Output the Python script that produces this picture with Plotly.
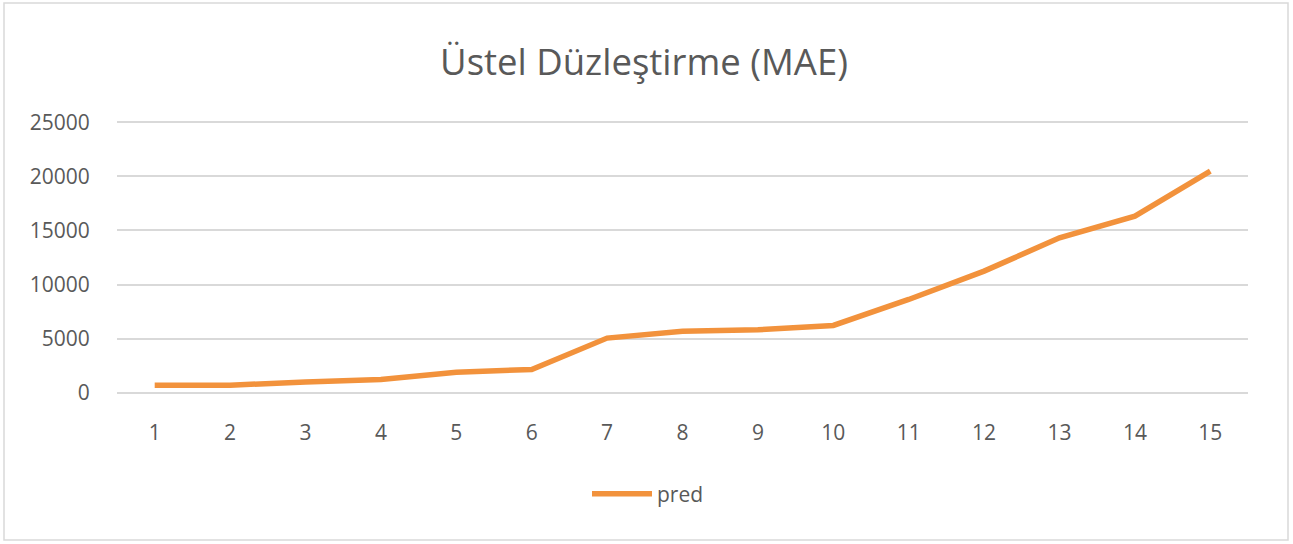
import plotly.graph_objects as go

periods = list(range(1, 16))
pred = [700, 700, 980, 1230, 1900, 2150, 5050, 5690, 5820, 6220, 8620, 11240, 14320, 16320, 20480]
y_ticks = [0, 5000, 10000, 15000, 20000, 25000]
title_text = "Üstel Düzleştirme (MAE)"
series_name = "pred"

FONT = "Open Sans, Lato, sans-serif"
GREY = "#595959"

fig = go.Figure()
fig.add_trace(go.Scatter(
    x=periods, y=pred, mode="lines", name=series_name,
    line=dict(color="#F2923C", width=5.5),
))

W, H = 1293, 544
ml, mr, mt, mb = 117, 45, 121, 150
pw, ph = W - ml - mr, H - mt - mb
bottom_px = H - mb  # pixel row of paper y=0

fig.update_layout(
    width=W, height=H,
    margin=dict(l=ml, r=mr, t=mt, b=mb),
    paper_bgcolor="white", plot_bgcolor="white",
    font=dict(family=FONT, color=GREY),
    title=dict(text=title_text, x=(644 - ml) / pw, xanchor="center", xref="paper",
               y=1 - 62 / H, yanchor="middle",
               font=dict(size=36.5, color=GREY, family=FONT)),
    xaxis=dict(range=[0.5, 15.5], tickmode="array", tickvals=periods,
               ticktext=[str(p) for p in periods],
               showgrid=False, zeroline=False, showline=False,
               ticks="outside", ticklen=20, tickcolor="rgba(0,0,0,0)",
               tickfont=dict(size=21, color=GREY)),
    yaxis=dict(range=[-120, 25120], tickmode="array", tickvals=y_ticks,
               ticktext=[str(v) for v in y_ticks],
               showgrid=True, gridcolor="#D9D9D9", gridwidth=1.5,
               zeroline=False, showline=False,
               ticks="outside", ticklen=22, tickcolor="rgba(0,0,0,0)",
               tickfont=dict(size=21, color=GREY)),
    showlegend=True,
    legend=dict(orientation="h", x=(648 - ml) / pw, xanchor="center",
                y=-(494 - bottom_px) / ph, yanchor="middle",
                itemwidth=60,
                font=dict(size=21, color=GREY),
                bgcolor="rgba(0,0,0,0)"),
    shapes=[dict(type="rect", xref="paper", yref="paper",
                 x0=(4 - ml) / pw, x1=(1288 - ml) / pw,
                 y0=(bottom_px - 540) / ph, y1=(bottom_px - 3) / ph,
                 line=dict(color="#D9D9D9", width=1.5), fillcolor="rgba(0,0,0,0)",
                 layer="below")],
)

fig.write_html("out.html", config={"displayModeBar": False},
               post_script="document.body.style.margin='0px';")
